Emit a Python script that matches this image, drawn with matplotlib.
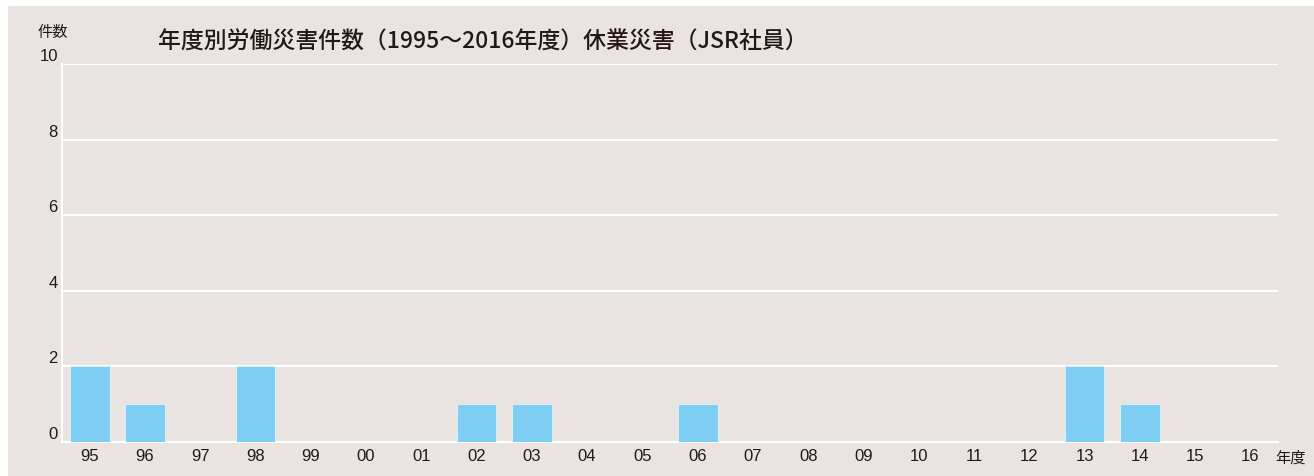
import numpy as np
import matplotlib.pyplot as plt
from matplotlib.patches import Rectangle
import matplotlib.transforms as mtransforms

plt.rcParams['font.family'] = ['Noto Sans CJK JP', 'DejaVu Sans']

# 年度と休業災害件数
years = ['95', '96', '97', '98', '99', '00', '01', '02', '03', '04', '05',
         '06', '07', '08', '09', '10', '11', '12', '13', '14', '15', '16']
counts = [2, 1, 0, 2, 0, 0, 0, 1, 1, 0, 0,
          1, 0, 0, 0, 0, 0, 0, 2, 1, 0, 0]
yticks = [0, 2, 4, 6, 8, 10]

bg = '#e9e4e1'
bar_color = '#7ecdf3'
text_color = '#231815'
num_font = ['Liberation Sans', 'DejaVu Sans']

fig = plt.figure(figsize=(13.14, 4.77), dpi=100)
fig.patch.set_facecolor('white')
fig.patches.append(Rectangle((8/1314, 0), 1 - 8/1314, 1 - 7/477,
                             transform=fig.transFigure, facecolor=bg,
                             edgecolor='none', zorder=-10))

ax = fig.add_axes([62/1314, 34/477, 1216/1314, 378/477])
ax.set_facecolor(bg)

x = np.arange(len(years))
ax.bar(x, counts, width=0.72, color=bar_color, edgecolor='#d6eef9',
       linewidth=0.8, zorder=3)

ax.set_xlim(-0.5, len(years) - 0.5)
ax.set_ylim(0, 10)
ax.set_yticks(yticks)
ax.set_yticklabels([str(v) for v in yticks], fontsize=12, color=text_color,
                   family=num_font)
ax.set_xticks(x)
ax.set_xticklabels(years, fontsize=12, color=text_color, family=num_font)
ax.tick_params(length=0)
ax.tick_params(axis='x', pad=4)
ax.tick_params(axis='y', pad=3)

# y labels sit just above their gridlines
offset = mtransforms.ScaledTranslation(0, 1/100, fig.dpi_scale_trans)
for lab in ax.get_yticklabels():
    lab.set_va('bottom')
    lab.set_transform(lab.get_transform() + offset)

ax.grid(axis='y', color='white', linewidth=1.5, zorder=1)
for s in ['top', 'right']:
    ax.spines[s].set_visible(False)
for s in ['left', 'bottom']:
    ax.spines[s].set_color('white')
    ax.spines[s].set_linewidth(1.5)

fig.text(53/1314, 1 - 33/477, '件数', fontsize=11, color=text_color,
         ha='center', va='center')
fig.text(1290/1314, 1 - 458/477, '年度', fontsize=11, color=text_color,
         ha='center', va='center')
fig.text(158/1314, 1 - 42/477,
         '年度別労働災害件数（1995～2016年度）休業災害（JSR社員）',
         fontsize=16.5, fontweight='medium', color=text_color,
         ha='left', va='center')

fig.savefig('out.png', dpi=100, facecolor='white')
